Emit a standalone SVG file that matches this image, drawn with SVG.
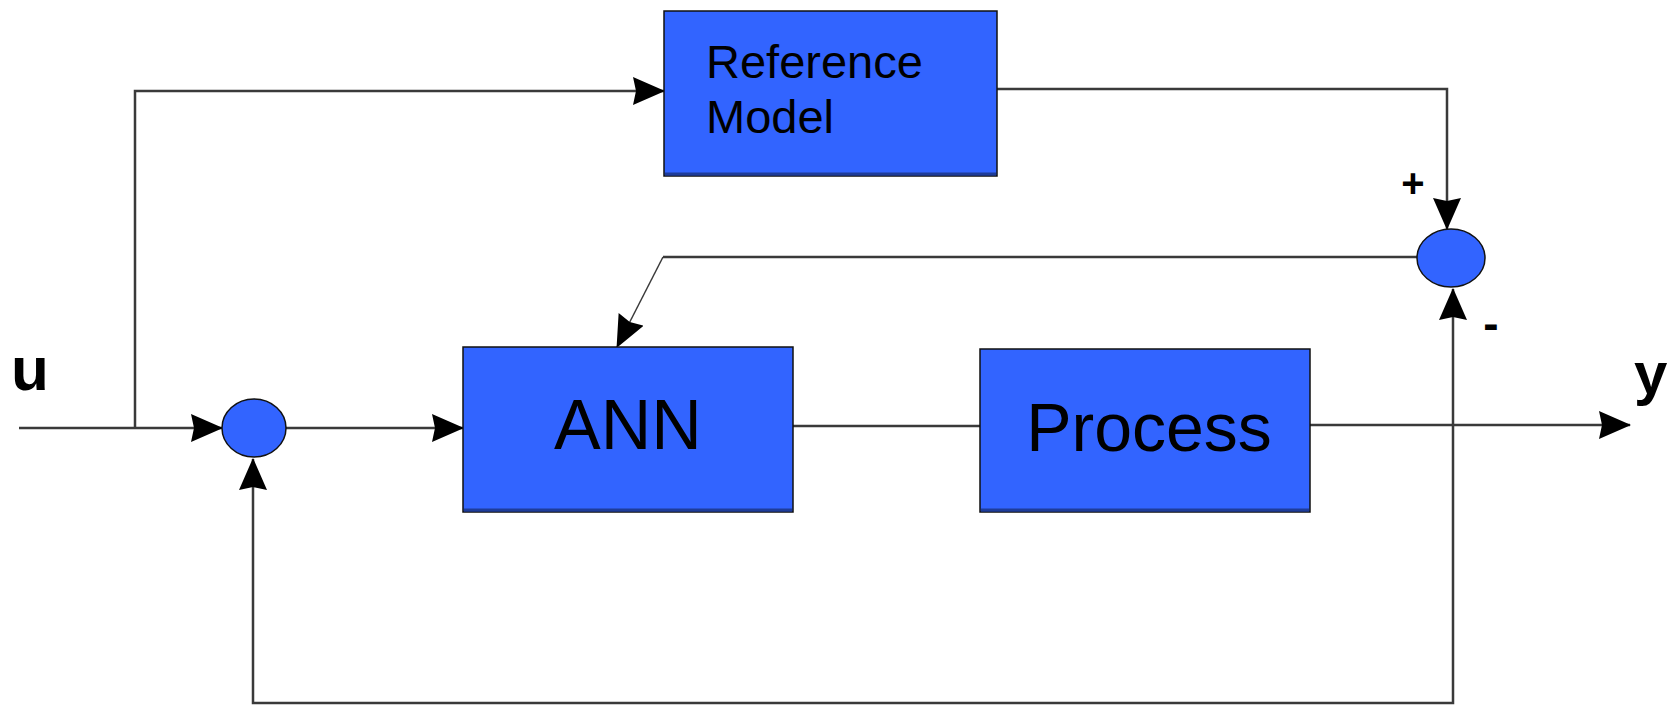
<svg xmlns="http://www.w3.org/2000/svg" width="1675" height="706" viewBox="0 0 1675 706">
  <style>
    .block { fill: #3264ff; stroke: #111; stroke-width: 1.5; }
    .edge { stroke: #1e3c9a; stroke-width: 3; }
    .sum { fill: #3264ff; stroke: #111; stroke-width: 1.5; }
    .wire { fill: none; stroke: #3a3a3a; stroke-width: 2.5; }
    .thin { fill: none; stroke: #3a3a3a; stroke-width: 1.5; }
    .lbl { font-family: "Liberation Sans", Arial, sans-serif; fill: #000; }
    .sig { font-family: "Liberation Sans", Arial, sans-serif; font-weight: bold; fill: #000; }
  </style>
  <defs>
    <marker id="arrow" markerUnits="userSpaceOnUse" viewBox="0 0 32 28" markerWidth="32" markerHeight="28" refX="31" refY="14" orient="auto">
      <path d="M0,0 L32,14 L0,28 L3,14 Z" fill="#000"/>
    </marker>
  </defs>

  <rect width="1675" height="706" fill="#fff"/>

  <!-- signal paths -->
  <g id="connectors">
    <path class="wire" d="M19,428 L222,428" marker-end="url(#arrow)"/>
    <path class="wire" d="M135,428 L135,91 L664,91" marker-end="url(#arrow)"/>
    <path class="wire" d="M286,428 L463,428" marker-end="url(#arrow)"/>
    <path class="wire" d="M793,426 L980,426"/>
    <path class="wire" d="M1310,425 L1630,425" marker-end="url(#arrow)"/>
    <path class="wire" d="M997,89 L1447,89 L1447,229" marker-end="url(#arrow)"/>
    <path class="wire" d="M1417,257 L663,257"/>
    <path class="thin" d="M663,257 L617,347" marker-end="url(#arrow)"/>
    <path class="wire" d="M1453,425 L1453,289" marker-end="url(#arrow)"/>
    <path class="wire" d="M1453,425 L1453,703 L253,703 L253,459" marker-end="url(#arrow)"/>
  </g>

  <g id="reference-model">
    <rect class="block" x="664" y="11" width="333" height="165"/>
    <line class="edge" x1="665" y1="174" x2="996" y2="174"/>
    <text class="lbl" x="706" y="78" font-size="47">Reference</text>
    <text class="lbl" x="706" y="133" font-size="47">Model</text>
  </g>

  <g id="ann">
    <rect class="block" x="463" y="347" width="330" height="165"/>
    <line class="edge" x1="464" y1="510" x2="792" y2="510"/>
    <text class="lbl" x="628" y="449" font-size="70" text-anchor="middle">ANN</text>
  </g>

  <g id="process">
    <rect class="block" x="980" y="349" width="330" height="163"/>
    <line class="edge" x1="981" y1="510" x2="1309" y2="510"/>
    <text class="lbl" x="1149" y="451" font-size="68" text-anchor="middle">Process</text>
  </g>

  <g id="input-sum">
    <ellipse class="sum" cx="254" cy="428" rx="32" ry="29"/>
  </g>

  <g id="error-sum">
    <ellipse class="sum" cx="1451" cy="258" rx="34" ry="29"/>
    <text class="sig" x="1413" y="197" font-size="40" text-anchor="middle">+</text>
    <text class="sig" x="1491" y="339" font-size="46" text-anchor="middle">-</text>
  </g>

  <g id="input-label">
    <text class="sig" x="11" y="390" font-size="62">u</text>
  </g>

  <g id="output-label">
    <text class="sig" x="1634" y="394" font-size="60">y</text>
  </g>
</svg>
